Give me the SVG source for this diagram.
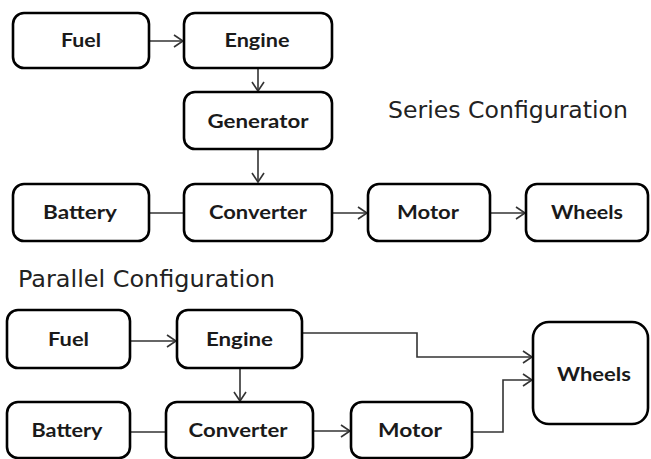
<svg xmlns="http://www.w3.org/2000/svg" width="651" height="459" viewBox="0 0 651 459">
<defs>
<style>
.box{fill:#fff;stroke:#000;stroke-width:2.6}
.lbl{font-family:Lato,"Open Sans","Liberation Sans",sans-serif;font-weight:bold;font-size:19px;fill:#1a1a1a;text-anchor:middle}
.ttl{font-family:"DejaVu Sans","Liberation Sans",sans-serif;font-size:22.5px;fill:#222}
.con{fill:none;stroke:#333;stroke-width:1.6}
</style>
<marker id="arr" markerWidth="12" markerHeight="14" refX="10" refY="7" orient="auto" markerUnits="userSpaceOnUse">
<path d="M1,1 L10,7 L1,13" fill="none" stroke="#333" stroke-width="1.6"/>
</marker>
</defs>
<rect width="651" height="459" fill="#fff"/>
<g id="connectors">
<path class="con" d="M149,41 H183" marker-end="url(#arr)"/>
<path class="con" d="M258,68 V91" marker-end="url(#arr)"/>
<path class="con" d="M258,149 V182" marker-end="url(#arr)"/>
<path class="con" d="M149,213 H184"/>
<path class="con" d="M332,213 H367" marker-end="url(#arr)"/>
<path class="con" d="M490,213 H525" marker-end="url(#arr)"/>
<path class="con" d="M130,341 H176" marker-end="url(#arr)"/>
<path class="con" d="M240,368 V401" marker-end="url(#arr)"/>
<path class="con" d="M130,432 H166"/>
<path class="con" d="M313,431 H350" marker-end="url(#arr)"/>
<path class="con" d="M302,333 H417 V357 H532" marker-end="url(#arr)"/>
<path class="con" d="M472,432 H503 V380 H532" marker-end="url(#arr)"/>
</g>
<g id="s-fuel"><rect class="box" x="13" y="13" width="136" height="55" rx="11"/><text class="lbl" x="81" y="47" textLength="40" lengthAdjust="spacingAndGlyphs">Fuel</text></g>
<g id="s-engine"><rect class="box" x="184" y="13" width="148" height="55" rx="11"/><text class="lbl" x="257" y="47" textLength="65" lengthAdjust="spacingAndGlyphs">Engine</text></g>
<g id="s-generator"><rect class="box" x="184" y="92" width="148" height="57" rx="11"/><text class="lbl" x="258" y="128" textLength="101" lengthAdjust="spacingAndGlyphs">Generator</text></g>
<g id="s-battery"><rect class="box" x="13" y="184" width="136" height="57" rx="11"/><text class="lbl" x="80" y="219" textLength="74" lengthAdjust="spacingAndGlyphs">Battery</text></g>
<g id="s-converter"><rect class="box" x="184" y="184" width="148" height="57" rx="11"/><text class="lbl" x="258" y="219" textLength="98" lengthAdjust="spacingAndGlyphs">Converter</text></g>
<g id="s-motor"><rect class="box" x="368" y="184" width="122" height="57" rx="11"/><text class="lbl" x="428" y="219" textLength="62" lengthAdjust="spacingAndGlyphs">Motor</text></g>
<g id="s-wheels"><rect class="box" x="526" y="184" width="122" height="57" rx="11"/><text class="lbl" x="587" y="219" textLength="72" lengthAdjust="spacingAndGlyphs">Wheels</text></g>
<text class="ttl" x="388" y="118" textLength="240" lengthAdjust="spacingAndGlyphs">Series Configuration</text>
<text class="ttl" x="18" y="287" textLength="257" lengthAdjust="spacingAndGlyphs">Parallel Configuration</text>
<g id="p-fuel"><rect class="box" x="7" y="310" width="123" height="58" rx="11"/><text class="lbl" x="68.5" y="346" textLength="41" lengthAdjust="spacingAndGlyphs">Fuel</text></g>
<g id="p-engine"><rect class="box" x="177" y="310" width="125" height="58" rx="11"/><text class="lbl" x="239.5" y="346" textLength="67" lengthAdjust="spacingAndGlyphs">Engine</text></g>
<g id="p-battery"><rect class="box" x="7" y="402" width="123" height="56" rx="11"/><text class="lbl" x="67" y="437" textLength="71" lengthAdjust="spacingAndGlyphs">Battery</text></g>
<g id="p-converter"><rect class="box" x="166" y="402" width="147" height="56" rx="11"/><text class="lbl" x="238" y="437" textLength="99" lengthAdjust="spacingAndGlyphs">Converter</text></g>
<g id="p-motor"><rect class="box" x="351" y="402" width="121" height="56" rx="11"/><text class="lbl" x="410" y="437" textLength="64" lengthAdjust="spacingAndGlyphs">Motor</text></g>
<g id="p-wheels"><rect class="box" x="533" y="322" width="115" height="102" rx="16"/><text class="lbl" x="594" y="381" textLength="74" lengthAdjust="spacingAndGlyphs">Wheels</text></g>
</svg>
